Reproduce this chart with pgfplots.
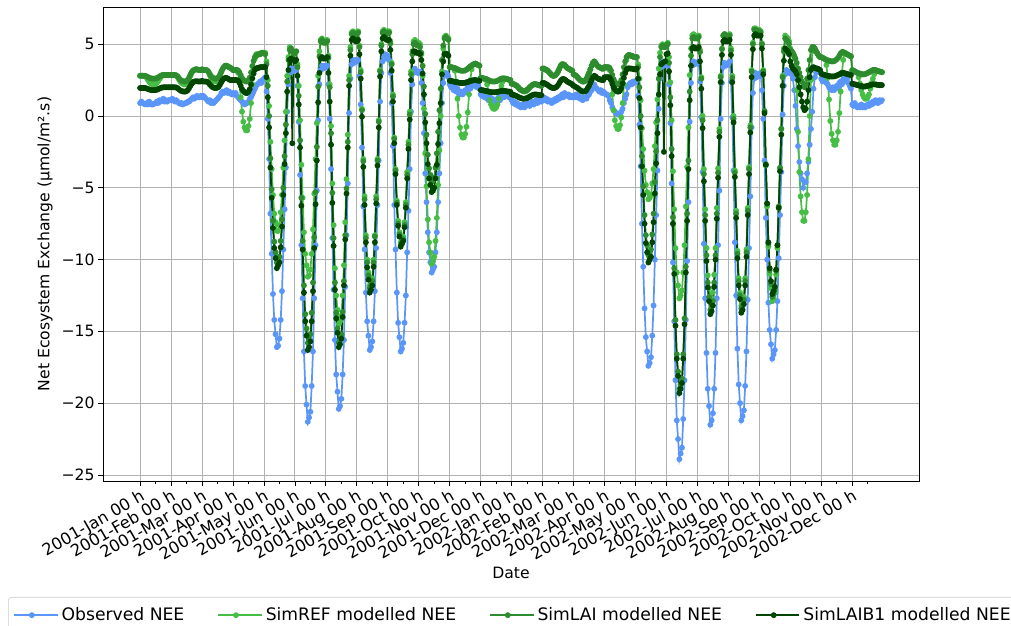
\documentclass[border=0pt]{standalone}
\usepackage{fontspec}
\setmainfont{DejaVu Sans}
\usepackage{pgfplots}
\usepackage{pgfplotstable}
\pgfplotsset{compat=1.18}

\definecolor{cobs}{RGB}{90,150,250}
\definecolor{cref}{RGB}{70,190,70}
\definecolor{clai}{RGB}{45,140,45}
\definecolor{claib}{RGB}{0,70,0}

% hourly mean diurnal cycles, 24 values per month, Jan 2001 - Dec 2002
\pgfplotstableread[row sep=\\]{
y\\
0.9\\1.0\\0.9\\0.85\\0.8\\0.9\\0.8\\1.0\\0.9\\0.8\\0.8\\0.85\\0.9\\1.0\\0.9\\1.1\\1.0\\1.1\\1.2\\1.0\\1.1\\1.0\\1.1\\1.1\\
1.1\\1.2\\1.1\\1.0\\1.1\\1.0\\0.9\\0.85\\0.9\\0.8\\0.85\\0.9\\0.9\\1.0\\1.0\\1.1\\1.2\\1.3\\1.2\\1.3\\1.4\\1.3\\1.3\\1.4\\
1.3\\1.4\\1.3\\1.2\\1.1\\1.0\\1.1\\0.9\\1.0\\0.9\\1.0\\1.1\\1.2\\1.3\\1.4\\1.6\\1.7\\1.6\\1.7\\1.8\\1.6\\1.7\\1.6\\1.5\\
1.6\\1.5\\1.6\\1.4\\1.3\\1.2\\1.1\\1.0\\0.9\\0.8\\0.9\\0.9\\1.0\\1.2\\1.3\\1.5\\1.7\\1.9\\2.1\\2.2\\2.3\\2.4\\2.3\\2.5\\
2.6\\2.7\\1.7\\-0.2\\-3.0\\-6.8\\-9.6\\-12.4\\-14.2\\-15.2\\-16.1\\-16.0\\-15.5\\-14.2\\-12.2\\-9.3\\-6.5\\-3.6\\0.3\\2.2\\3.0\\3.3\\3.1\\3.3\\
3.3\\3.2\\2.1\\-0.4\\-4.1\\-9.0\\-12.7\\-16.4\\-18.8\\-20.1\\-21.3\\-21.0\\-20.6\\-18.8\\-16.4\\-12.7\\-9.0\\-5.2\\-0.3\\2.2\\3.2\\3.5\\3.3\\3.5\\
3.4\\3.5\\2.2\\-0.2\\-3.7\\-8.5\\-12.1\\-15.6\\-18.0\\-19.2\\-20.4\\-20.2\\-19.7\\-18.0\\-15.6\\-11.9\\-8.3\\-4.7\\0.2\\2.6\\3.6\\3.9\\3.7\\3.9\\
3.8\\3.9\\2.8\\0.8\\-2.2\\-6.3\\-9.3\\-12.3\\-14.3\\-15.3\\-16.3\\-16.1\\-15.7\\-14.3\\-12.2\\-9.2\\-6.2\\-3.1\\1.0\\3.0\\3.8\\4.1\\4.3\\4.0\\
4.2\\3.9\\3.0\\0.9\\-2.1\\-6.2\\-9.3\\-12.3\\-14.4\\-15.4\\-16.4\\-16.2\\-15.8\\-14.4\\-12.5\\-9.5\\-6.6\\-3.7\\0.3\\2.2\\3.0\\3.3\\3.1\\3.0\\
3.0\\3.1\\2.3\\0.9\\-1.2\\-4.0\\-6.0\\-8.1\\-9.5\\-10.2\\-10.9\\-10.7\\-10.5\\-9.5\\-8.1\\-6.0\\-4.0\\-1.9\\0.9\\2.3\\2.8\\3.0\\2.9\\2.7\\
2.2\\2.0\\2.3\\1.8\\2.0\\1.7\\1.9\\1.6\\1.5\\1.7\\1.5\\1.6\\1.8\\1.7\\2.0\\2.1\\1.9\\2.2\\2.4\\2.1\\2.3\\2.0\\2.2\\1.9\\
1.5\\1.4\\1.6\\1.3\\1.4\\1.2\\1.1\\1.3\\1.0\\1.2\\0.9\\1.1\\1.0\\1.2\\1.3\\1.1\\1.4\\1.5\\1.3\\1.6\\1.4\\1.5\\1.3\\1.4\\
1.1\\0.9\\1.0\\0.8\\0.9\\0.7\\0.8\\0.6\\0.7\\0.8\\0.6\\0.7\\0.8\\0.9\\0.7\\0.9\\1.0\\0.8\\1.0\\1.1\\0.9\\1.0\\1.1\\1.0\\
1.2\\1.3\\1.1\\1.2\\1.0\\1.1\\1.0\\0.9\\1.1\\1.0\\1.2\\1.1\\1.3\\1.2\\1.4\\1.5\\1.3\\1.6\\1.5\\1.4\\1.5\\1.3\\1.4\\1.3\\
1.4\\1.3\\1.5\\1.3\\1.4\\1.2\\1.3\\1.1\\1.2\\1.3\\1.2\\1.4\\1.5\\1.7\\1.8\\2.0\\2.2\\2.0\\1.9\\1.8\\1.7\\1.8\\1.6\\1.7\\
1.6\\1.5\\1.5\\1.4\\1.1\\0.9\\0.6\\0.4\\0.3\\0.2\\0.1\\0.15\\0.2\\0.3\\0.5\\0.9\\1.2\\1.5\\2.0\\2.2\\2.3\\2.2\\2.4\\2.3\\
2.4\\2.5\\1.4\\-0.6\\-3.5\\-7.5\\-10.5\\-13.4\\-15.4\\-16.4\\-17.4\\-17.2\\-16.8\\-15.3\\-13.2\\-10.0\\-6.9\\-3.8\\0.5\\2.6\\3.4\\3.8\\3.5\\3.7\\
3.6\\3.5\\2.2\\-0.5\\-4.7\\-10.2\\-14.3\\-18.4\\-21.2\\-22.5\\-23.9\\-23.5\\-23.1\\-21.1\\-18.4\\-14.2\\-10.1\\-6.0\\-0.4\\2.3\\3.5\\3.8\\3.6\\3.7\\
3.7\\3.8\\2.4\\-0.1\\-3.9\\-8.9\\-12.7\\-16.5\\-19.0\\-20.2\\-21.5\\-21.2\\-20.7\\-19.0\\-16.5\\-12.7\\-9.0\\-5.2\\-0.2\\2.3\\3.4\\3.7\\3.5\\3.6\\
3.6\\3.8\\2.4\\-0.1\\-3.8\\-8.8\\-12.5\\-16.2\\-18.7\\-20.0\\-21.2\\-20.9\\-20.5\\-18.8\\-16.4\\-12.8\\-9.2\\-5.6\\-0.8\\1.6\\2.6\\3.0\\2.7\\2.9\\
2.8\\3.0\\1.8\\-0.2\\-3.1\\-7.1\\-10.0\\-13.0\\-14.9\\-15.9\\-16.9\\-16.6\\-16.3\\-14.9\\-12.9\\-9.9\\-6.9\\-3.9\\0.1\\2.1\\2.9\\3.2\\3.0\\3.1\\
3.0\\2.9\\2.6\\1.8\\0.7\\-0.9\\-2.1\\-3.2\\-4.0\\-4.4\\-5.0\\-4.6\\-4.6\\-4.0\\-3.2\\-2.0\\-0.9\\0.3\\1.9\\2.7\\3.0\\3.3\\3.1\\3.2\\
2.6\\2.4\\2.7\\2.5\\2.3\\2.2\\2.0\\1.9\\1.8\\2.0\\1.8\\1.9\\2.1\\2.0\\2.3\\2.4\\2.2\\2.5\\2.7\\2.4\\2.6\\2.3\\2.1\\1.9\\
0.8\\0.7\\0.9\\0.7\\0.6\\0.7\\0.6\\0.8\\0.6\\0.7\\0.6\\0.7\\0.8\\0.7\\0.9\\0.8\\1.0\\0.9\\1.1\\1.0\\0.9\\1.1\\1.0\\1.1\\
}\obsdata

\pgfplotstableread[row sep=\\]{
y\\
2.8\\2.8\\2.8\\2.8\\2.77\\2.68\\2.53\\2.38\\2.29\\2.23\\2.2\\2.2\\2.23\\2.3\\2.43\\2.58\\2.7\\2.8\\2.85\\2.85\\2.85\\2.85\\2.85\\2.85\\
2.85\\2.85\\2.85\\2.85\\2.82\\2.72\\2.56\\2.41\\2.31\\2.25\\2.2\\2.2\\2.25\\2.35\\2.55\\2.8\\3.0\\3.15\\3.2\\3.25\\3.25\\3.22\\3.2\\3.2\\
3.25\\3.2\\3.2\\3.2\\3.16\\3.04\\2.84\\2.64\\2.52\\2.44\\2.4\\2.4\\2.45\\2.55\\2.77\\3.05\\3.27\\3.42\\3.5\\3.5\\3.45\\3.4\\3.35\\3.3\\
3.2\\3.2\\3.2\\3.2\\3.0\\2.4\\1.3\\0.3\\-0.4\\-0.8\\-1.0\\-1.0\\-0.7\\-0.2\\0.9\\2.2\\3.2\\4.0\\4.3\\4.3\\4.3\\4.35\\4.4\\4.4\\
4.4\\4.4\\3.8\\2.5\\0.7\\-1.8\\-3.7\\-5.5\\-6.8\\-7.4\\-8.0\\-8.0\\-7.6\\-6.7\\-5.5\\-3.6\\-1.7\\0.3\\2.8\\4.1\\4.8\\4.7\\4.5\\4.3\\
4.4\\4.5\\3.6\\2.1\\-0.3\\-3.4\\-5.7\\-8.1\\-9.6\\-10.4\\-11.2\\-11.1\\-10.7\\-9.6\\-7.9\\-5.4\\-3.0\\-0.5\\2.8\\4.5\\5.3\\5.4\\5.2\\5.2\\
5.2\\5.3\\4.2\\2.2\\-0.7\\-4.7\\-7.6\\-10.6\\-12.5\\-13.5\\-14.5\\-14.3\\-13.9\\-12.5\\-10.4\\-7.4\\-4.4\\-1.3\\2.8\\4.8\\5.8\\5.9\\5.8\\5.7\\
5.8\\5.9\\4.9\\3.2\\0.5\\-3.0\\-5.6\\-8.3\\-10.0\\-10.9\\-11.8\\-11.6\\-11.3\\-10.0\\-8.3\\-5.6\\-3.0\\-0.3\\3.2\\5.0\\5.9\\6.0\\5.9\\5.8\\
5.9\\5.9\\5.2\\3.7\\1.5\\-1.5\\-3.7\\-5.9\\-7.3\\-8.1\\-8.8\\-8.6\\-8.4\\-7.4\\-6.0\\-3.9\\-1.8\\0.3\\3.1\\4.5\\5.2\\5.3\\5.2\\5.1\\
5.1\\5.0\\4.3\\2.8\\0.5\\-2.6\\-4.9\\-7.2\\-8.8\\-9.5\\-10.3\\-10.1\\-9.8\\-8.7\\-7.1\\-4.8\\-2.4\\0.0\\3.1\\4.7\\5.5\\5.6\\5.5\\5.4\\
3.4\\3.4\\3.38\\3.35\\3.15\\2.4\\1.2\\0.0\\-0.8\\-1.3\\-1.5\\-1.5\\-1.25\\-0.75\\0.25\\1.5\\2.5\\3.25\\3.55\\3.6\\3.65\\3.6\\3.55\\3.5\\
2.65\\2.65\\2.62\\2.6\\2.5\\2.2\\1.65\\1.1\\0.8\\0.6\\0.5\\0.5\\0.6\\0.8\\1.2\\1.7\\2.1\\2.4\\2.55\\2.6\\2.58\\2.55\\2.52\\2.5\\
2.25\\2.22\\2.2\\2.15\\2.1\\2.0\\1.9\\1.82\\1.76\\1.72\\1.7\\1.72\\1.78\\1.88\\2.0\\2.08\\2.15\\2.2\\2.22\\2.2\\2.18\\2.15\\2.12\\2.1\\
3.3\\3.3\\3.25\\3.2\\3.15\\3.05\\2.95\\2.85\\2.8\\2.8\\2.85\\2.95\\3.1\\3.3\\3.5\\3.6\\3.6\\3.55\\3.45\\3.35\\3.3\\3.25\\3.2\\3.15\\
2.9\\2.85\\2.8\\2.7\\2.6\\2.5\\2.45\\2.4\\2.4\\2.45\\2.6\\2.8\\3.0\\3.25\\3.5\\3.7\\3.8\\3.7\\3.55\\3.45\\3.4\\3.35\\3.3\\3.3\\
3.4\\3.4\\3.35\\3.3\\3.2\\2.5\\1.5\\0.4\\-0.3\\-0.7\\-0.9\\-0.9\\-0.65\\-0.1\\0.9\\2.2\\3.2\\3.9\\4.2\\4.25\\4.2\\4.2\\4.15\\4.1\\
4.1\\4.1\\3.6\\2.6\\1.1\\-0.85\\-2.3\\-3.8\\-4.8\\-5.3\\-5.8\\-5.7\\-5.5\\-4.7\\-3.7\\-2.1\\-0.45\\1.15\\3.3\\4.4\\4.9\\5.0\\4.9\\4.9\\
5.0\\5.1\\4.1\\2.35\\-0.3\\-3.85\\-6.5\\-9.2\\-10.9\\-11.8\\-12.7\\-12.5\\-12.15\\-10.9\\-9.0\\-6.3\\-3.55\\-0.8\\2.85\\4.7\\5.6\\5.7\\5.6\\5.5\\
5.5\\5.6\\4.6\\2.7\\0.0\\-3.7\\-6.5\\-9.2\\-11.1\\-12.0\\-12.9\\-12.7\\-12.3\\-11.05\\-9.2\\-6.4\\-3.65\\-0.9\\2.8\\4.7\\5.6\\5.7\\5.6\\5.6\\
5.6\\5.7\\4.7\\2.8\\0.0\\-3.8\\-6.6\\-9.4\\-11.3\\-12.3\\-13.2\\-13.0\\-12.6\\-11.3\\-9.3\\-6.4\\-3.55\\-0.65\\3.2\\5.1\\6.1\\6.1\\6.0\\6.0\\
6.0\\5.9\\5.05\\3.2\\0.3\\-3.45\\-6.3\\-9.1\\-11.0\\-12.0\\-12.9\\-12.7\\-12.3\\-11.05\\-9.2\\-6.4\\-3.65\\-0.9\\2.8\\4.7\\5.6\\5.5\\5.4\\5.2\\
4.7\\4.5\\4.3\\4.1\\3.5\\1.8\\-1.1\\-3.9\\-5.6\\-6.7\\-7.3\\-7.3\\-6.7\\-5.5\\-3.0\\0.0\\2.5\\4.5\\4.8\\4.7\\4.5\\4.35\\4.2\\4.1\\
4.1\\4.05\\4.0\\3.95\\3.55\\2.65\\1.15\\-0.35\\-1.25\\-1.7\\-2.0\\-2.0\\-1.7\\-1.1\\0.2\\1.7\\3.0\\3.9\\4.4\\4.35\\4.3\\4.25\\4.2\\4.15\\
3.2\\3.15\\3.1\\3.05\\3.0\\2.7\\2.25\\1.8\\1.5\\1.3\\1.2\\1.2\\1.3\\1.5\\1.9\\2.3\\2.6\\2.9\\3.2\\3.15\\3.12\\3.1\\3.08\\3.05\\
}\refdata

\pgfplotstableread[row sep=\\]{
y\\
2.8\\2.8\\2.8\\2.8\\2.79\\2.76\\2.71\\2.66\\2.63\\2.61\\2.6\\2.6\\2.61\\2.64\\2.68\\2.74\\2.8\\2.84\\2.85\\2.85\\2.85\\2.85\\2.85\\2.85\\
2.85\\2.85\\2.85\\2.85\\2.83\\2.76\\2.65\\2.54\\2.47\\2.43\\2.4\\2.4\\2.44\\2.52\\2.68\\2.88\\3.04\\3.16\\3.2\\3.25\\3.25\\3.22\\3.2\\3.2\\
3.25\\3.2\\3.2\\3.2\\3.17\\3.08\\2.93\\2.78\\2.69\\2.63\\2.6\\2.6\\2.64\\2.73\\2.9\\3.11\\3.28\\3.41\\3.5\\3.5\\3.45\\3.4\\3.35\\3.3\\
3.2\\3.2\\3.2\\3.2\\3.16\\3.04\\2.84\\2.64\\2.52\\2.44\\2.4\\2.4\\2.49\\2.67\\3.03\\3.48\\3.84\\4.11\\4.2\\4.25\\4.3\\4.3\\4.35\\4.4\\
4.35\\4.3\\3.6\\2.1\\0.0\\-2.95\\-5.1\\-7.3\\-8.75\\-9.5\\-10.2\\-10.0\\-9.8\\-8.7\\-7.2\\-5.0\\-2.8\\-0.6\\2.4\\3.9\\4.6\\4.7\\4.5\\4.3\\
4.4\\4.5\\3.4\\1.4\\-1.7\\-5.7\\-8.7\\-11.8\\-13.8\\-14.8\\-15.8\\-15.6\\-15.2\\-13.7\\-11.6\\-8.45\\-5.3\\-2.15\\2.05\\4.15\\5.2\\5.3\\5.1\\5.1\\
5.1\\5.2\\4.05\\2.0\\-1.2\\-5.35\\-8.5\\-11.6\\-13.7\\-14.8\\-15.8\\-15.6\\-15.2\\-13.65\\-11.5\\-8.3\\-5.05\\-1.8\\2.5\\4.6\\5.7\\5.8\\5.7\\5.6\\
5.7\\5.8\\4.8\\3.05\\0.4\\-3.15\\-5.8\\-8.5\\-10.2\\-11.1\\-12.0\\-11.8\\-11.5\\-10.2\\-8.4\\-5.8\\-3.1\\-0.4\\3.1\\4.9\\5.8\\5.9\\5.8\\5.7\\
5.8\\5.8\\5.05\\3.6\\1.35\\-1.6\\-3.8\\-6.05\\-7.5\\-8.25\\-9.0\\-8.8\\-8.6\\-7.6\\-6.2\\-4.1\\-2.0\\0.1\\2.9\\4.3\\5.0\\5.1\\5.0\\4.9\\
4.9\\4.8\\4.4\\3.5\\2.05\\0.15\\-1.3\\-2.7\\-3.65\\-4.1\\-4.6\\-4.5\\-4.3\\-3.6\\-2.6\\-1.1\\0.4\\1.9\\3.9\\4.9\\5.4\\5.5\\5.4\\5.3\\
3.4\\3.4\\3.38\\3.35\\3.33\\3.3\\3.25\\3.2\\3.17\\3.15\\3.15\\3.15\\3.18\\3.22\\3.3\\3.38\\3.45\\3.52\\3.58\\3.62\\3.65\\3.6\\3.55\\3.5\\
2.65\\2.65\\2.62\\2.6\\2.58\\2.55\\2.5\\2.45\\2.42\\2.4\\2.4\\2.4\\2.42\\2.45\\2.5\\2.55\\2.6\\2.62\\2.62\\2.6\\2.58\\2.55\\2.52\\2.5\\
2.25\\2.22\\2.2\\2.15\\2.1\\2.0\\1.9\\1.82\\1.78\\1.75\\1.75\\1.78\\1.82\\1.9\\2.0\\2.08\\2.15\\2.2\\2.22\\2.2\\2.18\\2.15\\2.12\\2.1\\
3.3\\3.3\\3.25\\3.2\\3.15\\3.05\\2.95\\2.85\\2.8\\2.8\\2.85\\2.95\\3.1\\3.3\\3.5\\3.6\\3.6\\3.55\\3.45\\3.35\\3.3\\3.25\\3.2\\3.15\\
2.9\\2.85\\2.8\\2.7\\2.6\\2.5\\2.45\\2.4\\2.4\\2.45\\2.6\\2.8\\3.0\\3.25\\3.5\\3.7\\3.8\\3.7\\3.55\\3.45\\3.4\\3.35\\3.3\\3.3\\
3.4\\3.4\\3.4\\3.4\\3.34\\3.16\\2.86\\2.56\\2.38\\2.26\\2.2\\2.2\\2.3\\2.5\\2.9\\3.4\\3.8\\4.1\\4.2\\4.25\\4.2\\4.2\\4.15\\4.1\\
4.1\\4.1\\3.4\\2.0\\0.0\\-2.8\\-4.9\\-6.9\\-8.3\\-9.0\\-9.7\\-9.5\\-9.3\\-8.25\\-6.8\\-4.6\\-2.45\\-0.3\\2.6\\4.1\\4.8\\4.9\\4.8\\4.8\\
4.9\\5.0\\3.7\\1.3\\-2.3\\-7.05\\-10.6\\-14.2\\-16.6\\-17.8\\-19.0\\-18.7\\-18.3\\-16.6\\-14.1\\-10.5\\-6.8\\-3.1\\1.7\\4.2\\5.4\\5.5\\5.4\\5.4\\
5.4\\5.5\\4.45\\2.6\\-0.3\\-4.05\\-6.9\\-9.7\\-11.6\\-12.6\\-13.5\\-13.3\\-12.9\\-11.6\\-9.7\\-6.8\\-3.95\\-1.1\\2.7\\4.65\\5.6\\5.7\\5.6\\5.5\\
5.5\\5.6\\4.55\\2.65\\-0.2\\-3.95\\-6.8\\-9.6\\-11.5\\-12.5\\-13.4\\-13.2\\-12.8\\-11.5\\-9.5\\-6.6\\-3.7\\-0.8\\3.1\\5.0\\6.0\\6.0\\5.9\\5.9\\
5.9\\5.8\\5.0\\3.1\\0.35\\-3.35\\-6.1\\-8.9\\-10.75\\-11.7\\-12.6\\-12.4\\-12.1\\-10.8\\-9.0\\-6.3\\-3.6\\-0.9\\2.7\\4.5\\5.4\\5.3\\5.2\\5.0\\
4.6\\4.5\\4.4\\4.2\\4.0\\3.7\\3.3\\3.0\\2.7\\2.4\\2.1\\2.0\\2.2\\2.6\\3.2\\3.9\\4.6\\4.8\\4.8\\4.7\\4.5\\4.35\\4.2\\4.1\\
4.1\\4.05\\4.0\\3.95\\3.9\\3.88\\3.85\\3.82\\3.8\\3.8\\3.82\\3.88\\3.95\\4.05\\4.2\\4.35\\4.45\\4.45\\4.4\\4.35\\4.3\\4.25\\4.2\\4.15\\
3.2\\3.15\\3.1\\3.05\\3.0\\2.98\\2.95\\2.92\\2.9\\2.9\\2.92\\2.95\\3.0\\3.05\\3.1\\3.15\\3.2\\3.2\\3.2\\3.15\\3.12\\3.1\\3.08\\3.05\\
}\laidata

\pgfplotstableread[row sep=\\]{
y\\
1.95\\1.95\\1.95\\1.95\\1.94\\1.92\\1.88\\1.85\\1.82\\1.8\\1.8\\1.8\\1.81\\1.83\\1.87\\1.91\\1.95\\1.98\\2.0\\2.0\\2.0\\2.0\\2.0\\2.0\\
2.0\\2.0\\2.0\\2.0\\1.98\\1.94\\1.86\\1.79\\1.74\\1.71\\1.7\\1.7\\1.73\\1.8\\1.94\\2.1\\2.24\\2.35\\2.4\\2.42\\2.42\\2.4\\2.4\\2.4\\
2.45\\2.4\\2.4\\2.4\\2.38\\2.31\\2.2\\2.09\\2.02\\1.97\\1.95\\1.95\\1.98\\2.05\\2.19\\2.36\\2.5\\2.6\\2.65\\2.65\\2.6\\2.55\\2.5\\2.5\\
2.5\\2.5\\2.5\\2.5\\2.46\\2.32\\2.1\\1.87\\1.74\\1.65\\1.6\\1.6\\1.69\\1.86\\2.18\\2.62\\2.96\\3.22\\3.3\\3.35\\3.35\\3.4\\3.4\\3.4\\
3.4\\3.4\\2.7\\1.3\\-0.8\\-3.6\\-5.7\\-7.8\\-9.2\\-9.9\\-10.6\\-10.4\\-10.2\\-9.15\\-7.7\\-5.5\\-3.35\\-1.2\\1.7\\3.2\\3.9\\4.0\\-1.9\\3.9\\
3.8\\3.9\\2.8\\0.8\\-2.2\\-6.25\\-9.3\\-12.3\\-14.3\\-15.3\\-16.3\\-16.1\\-15.7\\-14.3\\-12.2\\-9.2\\-6.15\\-3.1\\0.95\\3.0\\4.0\\4.1\\4.0\\4.0\\
4.0\\4.1\\3.0\\1.0\\-2.0\\-6.05\\-9.05\\-12.1\\-14.1\\-15.1\\-16.1\\-15.9\\-15.5\\-14.0\\-11.8\\-8.6\\-5.4\\-2.2\\2.1\\4.2\\5.3\\5.4\\5.3\\5.2\\
5.2\\5.3\\4.3\\2.6\\-0.05\\-3.55\\-6.2\\-8.8\\-10.55\\-11.4\\-12.3\\-12.1\\-11.8\\-10.5\\-8.8\\-6.1\\-3.45\\-0.8\\2.75\\4.5\\5.4\\5.5\\5.4\\5.3\\
5.3\\5.3\\4.6\\3.15\\1.0\\-1.9\\-4.05\\-6.2\\-7.65\\-8.4\\-9.1\\-8.9\\-8.7\\-7.75\\-6.4\\-4.35\\-2.3\\-0.25\\2.5\\3.8\\4.5\\4.5\\4.4\\4.4\\
4.4\\4.3\\3.9\\2.95\\1.5\\-0.45\\-1.9\\-3.35\\-4.35\\-4.8\\-5.3\\-5.2\\-5.0\\-4.35\\-3.4\\-1.95\\-0.5\\0.9\\2.9\\3.8\\4.3\\4.35\\4.3\\4.2\\
2.45\\2.45\\2.42\\2.4\\2.38\\2.36\\2.34\\2.32\\2.3\\2.3\\2.3\\2.3\\2.32\\2.34\\2.37\\2.4\\2.43\\2.46\\2.48\\2.5\\2.5\\2.48\\2.46\\2.45\\
1.8\\1.8\\1.78\\1.76\\1.74\\1.72\\1.7\\1.68\\1.66\\1.65\\1.65\\1.65\\1.66\\1.68\\1.7\\1.72\\1.74\\1.75\\1.75\\1.74\\1.72\\1.7\\1.7\\1.68\\
1.5\\1.48\\1.45\\1.42\\1.38\\1.33\\1.28\\1.25\\1.22\\1.2\\1.2\\1.22\\1.25\\1.3\\1.35\\1.4\\1.45\\1.48\\1.5\\1.5\\1.48\\1.46\\1.45\\1.45\\
2.3\\2.3\\2.25\\2.2\\2.15\\2.08\\2.02\\1.97\\1.95\\1.95\\1.98\\2.05\\2.15\\2.3\\2.45\\2.55\\2.58\\2.55\\2.48\\2.4\\2.35\\2.3\\2.25\\2.2\\
2.1\\2.05\\2.0\\1.95\\1.88\\1.8\\1.75\\1.7\\1.7\\1.72\\1.8\\1.95\\2.1\\2.3\\2.5\\2.7\\2.8\\2.75\\2.65\\2.6\\2.55\\2.55\\2.5\\2.5\\
2.7\\2.7\\2.7\\2.7\\2.65\\2.5\\2.25\\2.0\\1.85\\1.75\\1.7\\1.7\\1.78\\1.94\\2.27\\2.66\\2.98\\3.22\\3.3\\3.32\\3.3\\3.3\\3.28\\3.25\\
3.25\\3.3\\2.6\\1.25\\-0.8\\-3.5\\-5.5\\-7.5\\-8.85\\-9.5\\-10.2\\-10.0\\-9.8\\-8.8\\-7.4\\-5.4\\-3.3\\-1.2\\1.5\\2.9\\3.6\\3.7\\-2.5\\3.8\\
4.3\\4.35\\3.1\\0.75\\-2.8\\-7.5\\-11.0\\-14.6\\-16.9\\-18.1\\-19.3\\-19.0\\-18.6\\-16.9\\-14.5\\-10.9\\-7.3\\-3.7\\1.1\\3.5\\4.7\\4.8\\4.7\\4.7\\
4.7\\4.8\\3.8\\1.9\\-0.85\\-4.55\\-7.3\\-10.1\\-11.95\\-12.9\\-13.8\\-13.6\\-13.2\\-11.9\\-10.0\\-7.15\\-4.3\\-1.45\\2.35\\4.25\\5.2\\5.3\\5.2\\5.2\\
5.2\\5.3\\4.25\\2.35\\-0.45\\-4.25\\-7.1\\-9.9\\-11.8\\-12.75\\-13.7\\-13.5\\-13.1\\-11.8\\-9.8\\-6.9\\-4.05\\-1.15\\2.7\\4.65\\5.6\\5.7\\5.6\\5.6\\
5.6\\5.6\\4.7\\2.9\\0.2\\-3.4\\-6.1\\-8.8\\-10.6\\-11.5\\-12.4\\-12.2\\-11.9\\-10.7\\-9.0\\-6.4\\-3.85\\-1.3\\2.1\\3.85\\4.7\\4.6\\4.5\\4.3\\
3.8\\3.5\\3.3\\3.2\\3.1\\2.9\\2.5\\2.0\\1.5\\1.0\\0.6\\0.4\\0.5\\1.0\\1.8\\2.7\\3.2\\3.35\\3.4\\3.35\\3.3\\3.3\\3.25\\3.2\\
2.95\\2.9\\2.88\\2.85\\2.82\\2.8\\2.78\\2.76\\2.75\\2.75\\2.76\\2.78\\2.82\\2.86\\2.9\\2.95\\3.0\\3.0\\2.98\\2.95\\2.92\\2.9\\2.88\\2.85\\
2.25\\2.22\\2.2\\2.18\\2.15\\2.12\\2.1\\2.08\\2.05\\2.05\\2.05\\2.08\\2.1\\2.12\\2.15\\2.18\\2.2\\2.2\\2.2\\2.18\\2.16\\2.15\\2.15\\2.15\\
}\laibdata

\begin{document}
\fontsize{10}{12}\selectfont
\begin{tikzpicture}[font=\fontsize{10}{12}\selectfont]
\path[use as bounding box] (0,0) rectangle (647.04pt,400.64pt);
\begin{axis}[
  at={(65.92pt,92.8pt)}, anchor=south west,
  scale only axis, width=522.24pt, height=303.36pt,
  xmin=-28.75, xmax=603.75, ymin=-25.42, ymax=7.59,
  xtick={0,24,...,552},
  xticklabels={2001-Jan 00 h,2001-Feb 00 h,2001-Mar 00 h,2001-Apr 00 h,2001-May 00 h,2001-Jun 00 h,2001-Jul 00 h,2001-Aug 00 h,2001-Sep 00 h,2001-Oct 00 h,2001-Nov 00 h,2001-Dec 00 h,2002-Jan 00 h,2002-Feb 00 h,2002-Mar 00 h,2002-Apr 00 h,2002-May 00 h,2002-Jun 00 h,2002-Jul 00 h,2002-Aug 00 h,2002-Sep 00 h,2002-Oct 00 h,2002-Nov 00 h,2002-Dec 00 h},
  minor xtick={12,36,...,564},
  ytick={-25,-20,-15,-10,-5,0,5},
  yticklabels={−25,−20,−15,−10,−5,0,5},
  xticklabel style={rotate=30, anchor=north east, inner sep=1pt, font=\fontsize{10.4}{12}\selectfont},
  yticklabel style={inner sep=2pt},
  tick align=outside, tick pos=left,
  major tick length=3.2pt, minor tick length=1.8pt,
  every tick/.style={black, line width=0.5pt},
  axis line style={black, line width=0.5pt},
  xmajorgrids, ymajorgrids,
  grid style={color=black!30, line width=0.55pt},
  xlabel={Date},
  ylabel={Net Ecosystem Exchange (µmol/m².s)},
  xlabel style={at={(axis description cs:0.5,-0.194)}, anchor=center},
  ylabel style={at={(axis description cs:-0.0711,0.5)}, anchor=center},
  legend style={at={(-0.1164,-0.2447)}, anchor=north west, legend columns=4,
    draw=black!20, rounded corners=2pt, inner xsep=3pt, inner ysep=4.5pt,
    font=\fontsize{11}{13}\selectfont, cells={anchor=west},
    /tikz/every even column/.append style={column sep=19pt}},
  legend image code/.code={\draw[mark repeat=2,mark phase=2,#1] plot coordinates {(0pt,0pt) (11.5pt,0pt) (23pt,0pt)}; \path (0pt,0pt) -- (28pt,0pt);},
  every axis plot/.append style={line width=1.1pt, mark=*, mark size=1.3pt, mark options={solid}},
]
\addplot[cobs] table[x expr=\coordindex, y=y] {\obsdata};
\addlegendentry{Observed NEE}
\addplot[cref] table[x expr=\coordindex, y=y] {\refdata};
\addlegendentry{SimREF modelled NEE}
\addplot[clai] table[x expr=\coordindex, y=y] {\laidata};
\addlegendentry{SimLAI modelled NEE}
\addplot[claib] table[x expr=\coordindex, y=y] {\laibdata};
\addlegendentry{SimLAIB1 modelled NEE}
\end{axis}
\end{tikzpicture}
\end{document}
